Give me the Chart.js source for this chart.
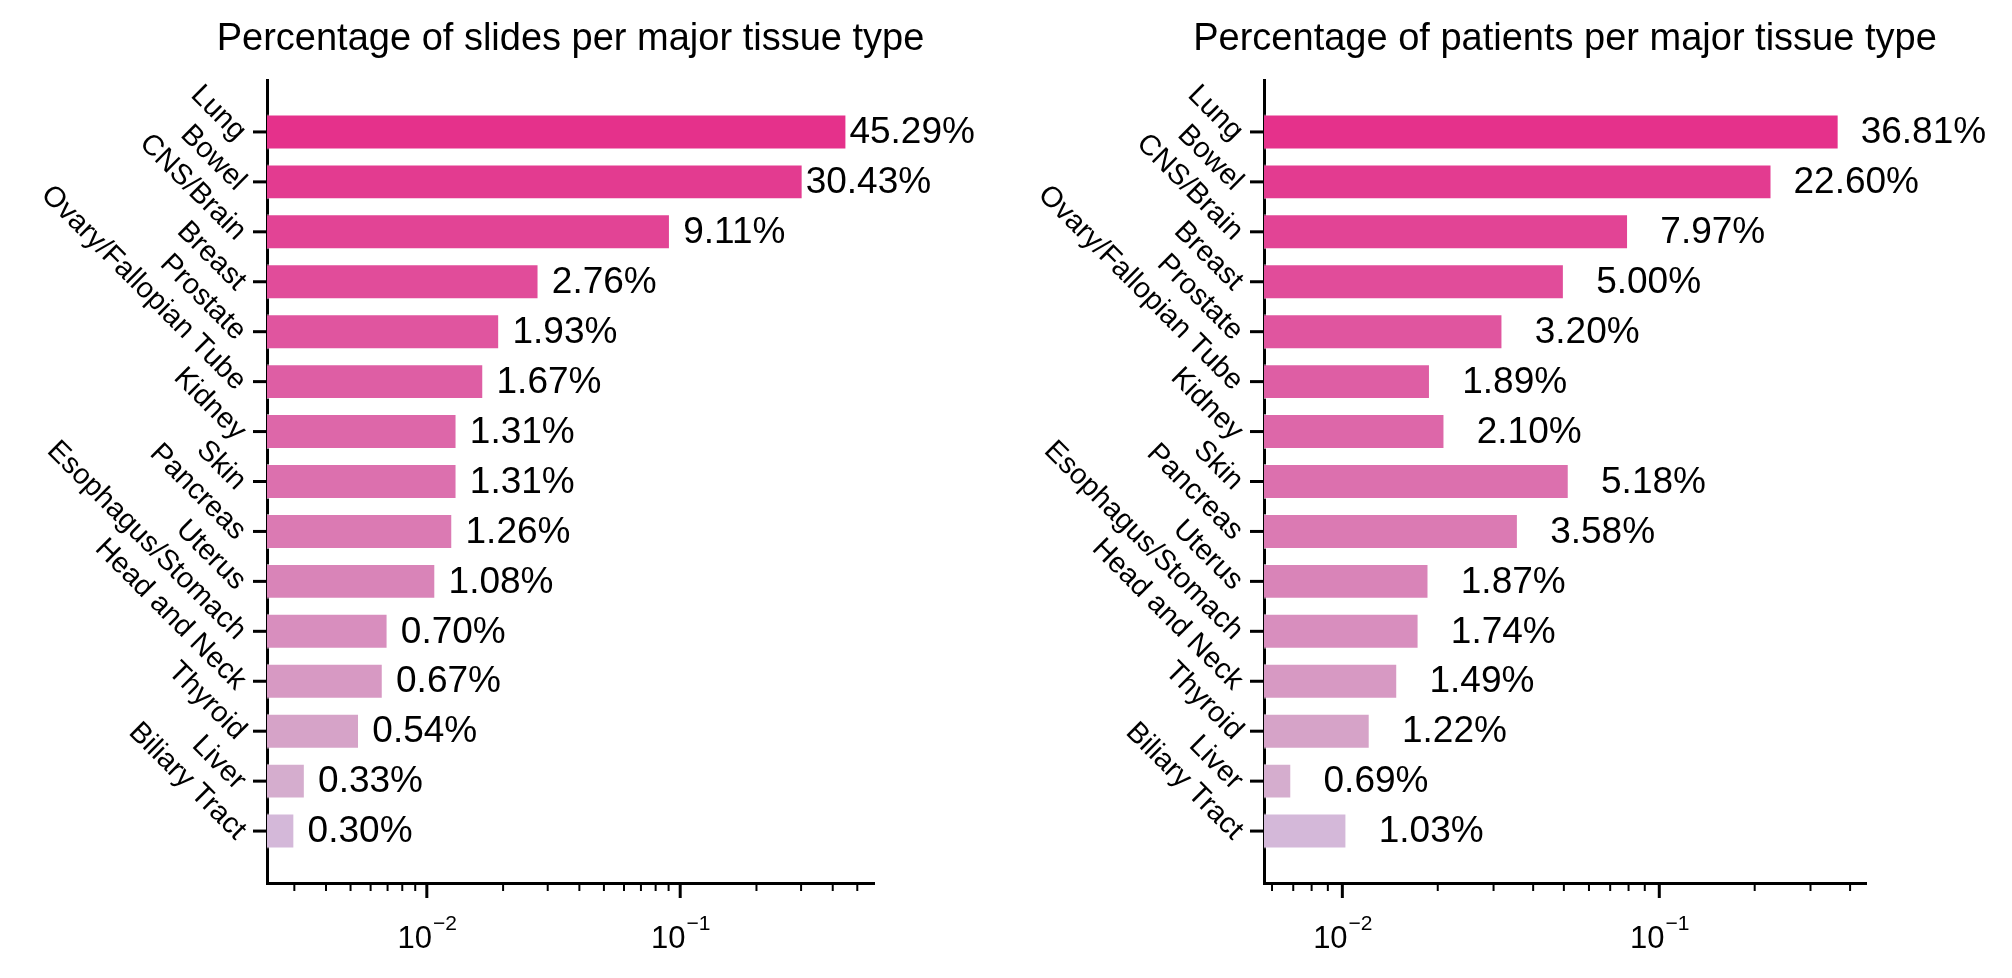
<!DOCTYPE html>
<html>
<head>
<meta charset="utf-8">
<script src="https://cdn.jsdelivr.net/npm/chart.js@4/dist/chart.umd.min.js"></script>
<style>
  html, body { margin: 0; padding: 0; background: #fff; }
  #wrap { position: relative; width: 2012px; height: 978px; }
  canvas { position: absolute; top: 0; }
</style>
</head>
<body>
<div id="wrap">
  <canvas id="chartSlides" width="1006" height="978" style="left:0"></canvas>
  <canvas id="chartPatients" width="1006" height="978" style="left:1006px"></canvas>
</div>
<script>
// categories (top to bottom)
const tissueTypes = ['Lung', 'Bowel', 'CNS/Brain', 'Breast', 'Prostate', 'Ovary/Fallopian Tube',
  'Kidney', 'Skin', 'Pancreas', 'Uterus', 'Esophagus/Stomach', 'Head and Neck',
  'Thyroid', 'Liver', 'Biliary Tract'];

// percentages
const slidesPct = [45.29, 30.43, 9.11, 2.76, 1.93, 1.67, 1.31, 1.31, 1.26, 1.08, 0.70, 0.67, 0.54, 0.33, 0.30];
const patientsPct = [36.81, 22.60, 7.97, 5.00, 3.20, 1.89, 2.10, 5.18, 3.58, 1.87, 1.74, 1.49, 1.22, 0.69, 1.03];

// one colour per tissue type, deep pink -> light lilac
const barColors = ['#e5318b', '#e33b90', '#e24495', '#e14c9a', '#e0559f', '#de5ea4', '#dd67a9',
  '#dc70ae', '#db7ab3', '#d984b8', '#d88ebe', '#d799c3', '#d6a3c8', '#d5adce', '#d4b8d9'];

// x axis tick labels (log scale)
const majorTicks = [0.01, 0.1];
const majorLabels = [['10', '\u22122'], ['10', '\u22121']];

const FONT = '"Liberation Sans", Arial, Helvetica, sans-serif';

function minorTicksBetween(min, max) {
    const out = [];
    for (let e = -4; e <= 0; e++) {
        for (let m = 2; m <= 9; m++) {
            const v = m * Math.pow(10, e);
            if (v >= min && v <= max) out.push(v);
        }
    }
    return out;
}

// dibuja titulo, ticks, etiquetas de categorias y de valores
const decorPlugin = {
    id: 'decor',
    afterDraw(chart, args, opts) {
        const ctx = chart.ctx;
        const area = chart.chartArea;
        const xs = chart.scales.x;
        const ys = chart.scales.y;
        ctx.save();
        ctx.fillStyle = '#000';
        ctx.strokeStyle = '#000';

        // title
        ctx.font = '38px ' + FONT;
        ctx.textAlign = 'center';
        ctx.textBaseline = 'middle';
        ctx.fillText(opts.title, (area.left + area.right) / 2, 40);

        // y ticks + rotated category labels
        ctx.lineWidth = 3;
        ctx.font = '29px ' + FONT;
        tissueTypes.forEach((name, i) => {
            const y = ys.getPixelForValue(i);
            ctx.beginPath();
            ctx.moveTo(area.left - 14, y);
            ctx.lineTo(area.left, y);
            ctx.stroke();
            ctx.save();
            ctx.translate(area.left - 26, y + 4);
            ctx.rotate(Math.PI / 4);
            ctx.textAlign = 'right';
            ctx.textBaseline = 'middle';
            ctx.fillText(name, 0, 0);
            ctx.restore();
        });

        // x ticks
        const yb = area.bottom;
        ctx.lineWidth = 2;
        minorTicksBetween(xs.min, xs.max).forEach(v => {
            const x = xs.getPixelForValue(v);
            ctx.beginPath();
            ctx.moveTo(x, yb);
            ctx.lineTo(x, yb + 8);
            ctx.stroke();
        });
        ctx.lineWidth = 3;
        majorTicks.forEach((v, i) => {
            const x = xs.getPixelForValue(v);
            ctx.beginPath();
            ctx.moveTo(x, yb);
            ctx.lineTo(x, yb + 15);
            ctx.stroke();
            const [base, exp] = majorLabels[i];
            ctx.font = '31px ' + FONT;
            const wBase = ctx.measureText(base).width;
            ctx.font = '21px ' + FONT;
            const wExp = ctx.measureText(exp).width;
            const x0 = x - (wBase + wExp) / 2;
            ctx.textAlign = 'left';
            ctx.textBaseline = 'alphabetic';
            ctx.font = '31px ' + FONT;
            ctx.fillText(base, x0, yb + 65);
            ctx.font = '21px ' + FONT;
            ctx.fillText(exp, x0 + wBase + 1, yb + 47);
        });

        // value labels
        ctx.font = '37px ' + FONT;
        ctx.textAlign = 'left';
        ctx.textBaseline = 'middle';
        const meta = chart.getDatasetMeta(0);
        meta.data.forEach((bar, i) => {
            const v = opts.values[i];
            const txt = (v < 10 ? ' ' : '') + v.toFixed(2) + '%';
            ctx.fillText(txt, bar.x + opts.gap, bar.y + 1);
        });
        ctx.restore();
    }
};

function makeChart(canvasId, values, title, xMin, xMax, padding, gap) {
    const ctx = document.getElementById(canvasId).getContext('2d');
    return new Chart(ctx, {
        type: 'bar',
        data: {
            datasets: [{
                data: values.map((v, i) => ({ x: v / 100, y: i })),
                backgroundColor: barColors,
                borderColor: 'rgba(255,255,255,0.6)',
                borderWidth: 1,
                barPercentage: 0.7,
                categoryPercentage: 1.0
            }]
        },
        options: {
            indexAxis: 'y',
            responsive: false,
            animation: false,
            layout: { padding: padding },
            scales: {
                x: {
                    type: 'logarithmic',
                    min: xMin,
                    max: xMax,
                    ticks: { display: false },
                    grid: { display: false, drawTicks: false },
                    border: { display: true, color: '#000', width: 3 }
                },
                y: {
                    type: 'linear',
                    reverse: true,
                    offset: false,
                    min: -1.04,
                    max: tissueTypes.length - 1 + 1.04,
                    afterBuildTicks: scale => {
                        scale.ticks = tissueTypes.map((_, i) => ({ value: i }));
                    },
                    ticks: { display: false },
                    grid: { display: false, drawTicks: false, offset: false },
                    border: { display: true, color: '#000', width: 3 }
                }
            },
            plugins: {
                legend: { display: false },
                tooltip: { enabled: false },
                decor: { title: title, values: values, gap: gap }
            }
        },
        plugins: [decorPlugin]
    });
}

makeChart('chartSlides', slidesPct, 'Percentage of slides per major tissue type',
    0.00234, 0.582, { left: 267, right: 132, top: 80, bottom: 95 }, 3);
makeChart('chartPatients', patientsPct, 'Percentage of patients per major tissue type',
    0.00566, 0.449, { left: 258, right: 146, top: 80, bottom: 95 }, 22);
</script>
</body>
</html>
